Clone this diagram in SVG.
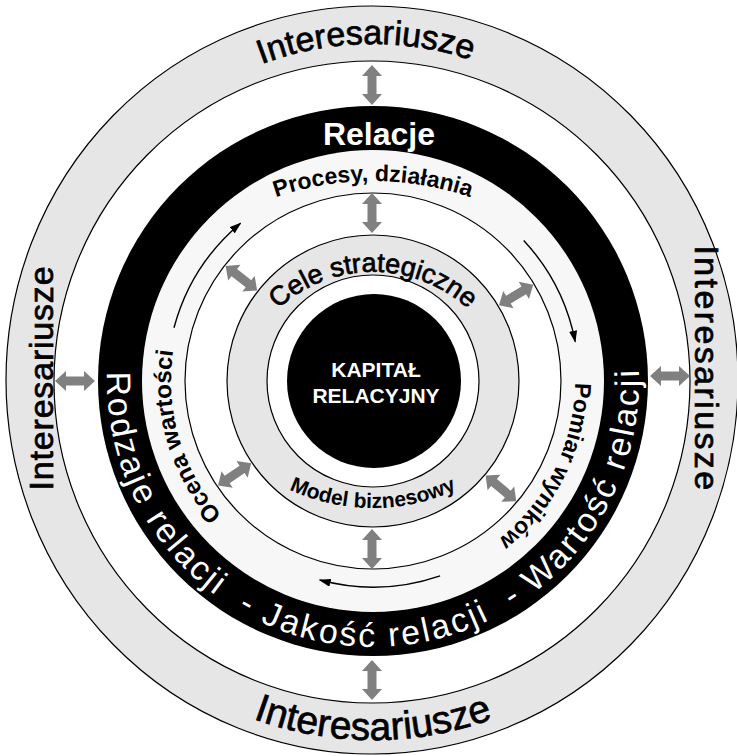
<svg xmlns="http://www.w3.org/2000/svg" xmlns:xlink="http://www.w3.org/1999/xlink" width="737" height="756" viewBox="0 0 737 756">
  <style>
    .ring-line { stroke: #000; stroke-width: 1.2; }
    .lbl { font-family: "Liberation Sans", Arial, sans-serif; fill: #000; }
    .heavy { stroke: #000; stroke-width: 0.7; }
    .white { fill: #fff; }
    .dbl { fill: #808080; }
    .flow { fill: none; stroke: #000; stroke-width: 1.4; marker-end: url(#tip); }
  </style>
  <defs>
    <path id="dbl-arrow" d="M-20,0 L-9,-10 L-9,-4.5 L9,-4.5 L9,-10 L20,0 L9,10 L9,4.5 L-9,4.5 L-9,10 Z"/>
    <marker id="tip" viewBox="0 0 12 8" refX="11" refY="4" markerWidth="12" markerHeight="8" markerUnits="userSpaceOnUse" orient="auto">
      <path d="M0,0 L12,4 L0,8 Z" fill="#000"/>
    </marker>
    <!-- text baselines -->
    <path id="p-top" d="M 134.5 154.7 A 310 310 0 0 1 609.5 154.7"/>
    <path id="p-bottom" d="M 71.6 566 A 348 348 0 0 0 674.4 566"/>
    <path id="p-black" d="M 142.6 248 A 266 266 0 1 0 603.4 248"/>
    <path id="p-proc" d="M 160.9 268.9 A 300 300 0 0 1 585.1 268.9"/>
    <path id="p-light-cw" d="M 373 583 A 202 202 0 1 1 373 179 A 202 202 0 1 1 373 583"/>
    <path id="p-cele" d="M 241.4 364.1 A 140 140 0 0 1 504.6 364.1"/>
    <path id="p-model" d="M 219.8 436.6 A 200 200 0 0 0 526.2 436.6"/>
  </defs>

  <rect width="737" height="756" fill="#fff"/>

  <!-- outer ring: stakeholders -->
  <g id="interesariusze">
    <ellipse cx="372" cy="380" rx="366" ry="374" fill="#e6e6e6" class="ring-line"/>
    <ellipse cx="372" cy="382" rx="318" ry="321" fill="#fff" class="ring-line"/>
    <text class="lbl heavy" font-size="34" text-anchor="middle"><textPath href="#p-top" startOffset="264.5">Interesariusze</textPath></text>
    <text class="lbl heavy" font-size="34" letter-spacing="0.8" text-anchor="middle" transform="translate(53,378) rotate(-90)">Interesariusze</text>
    <text class="lbl heavy" font-size="34" letter-spacing="2.4" text-anchor="middle" transform="translate(695,369) rotate(90)">Interesariusze</text>
    <text class="lbl heavy" font-size="39" text-anchor="middle"><textPath href="#p-bottom" startOffset="50%">Interesariusze</textPath></text>
  </g>

  <!-- black ring: relations -->
  <g id="relacje">
    <circle cx="373" cy="381" r="275" fill="#000"/>
    <text class="lbl white" x="379" y="145" font-size="32" font-weight="bold" text-anchor="middle">Relacje</text>
    <text class="lbl white" font-size="34" letter-spacing="2.5" xml:space="preserve" style="white-space:pre"><textPath href="#p-black" startOffset="130">Rodzaje relacji  - Jakość relacji  - Wartość relacji</textPath></text>
  </g>

  <!-- light ring: processes -->
  <g id="procesy">
    <circle cx="373" cy="381" r="231" fill="#f7f7f7"/>
    <circle cx="373" cy="381" r="188" fill="#fff" class="ring-line"/>
    <text class="lbl" font-size="23" font-weight="bold" text-anchor="middle"><textPath href="#p-proc" startOffset="50%">Procesy, działania</textPath></text>
    <text class="lbl" font-size="24" font-weight="bold" text-anchor="middle"><textPath href="#p-light-cw" startOffset="259">Ocena wartości</textPath></text>
    <text class="lbl" font-size="23" font-weight="bold" text-anchor="middle"><textPath href="#p-light-cw" startOffset="1043.6">Pomiar wyników</textPath></text>
  </g>

  <!-- gray ring: strategy and business model -->
  <g id="cele">
    <circle cx="373" cy="381" r="146" fill="#e6e6e6" class="ring-line"/>
    <circle cx="373" cy="381" r="106" fill="#fff" class="ring-line"/>
    <text class="lbl heavy" font-size="27" text-anchor="middle"><textPath href="#p-cele" startOffset="50%">Cele strategiczne</textPath></text>
    <text class="lbl" font-size="21" font-weight="bold" text-anchor="middle"><textPath href="#p-model" startOffset="50%">Model biznesowy</textPath></text>
  </g>

  <!-- core -->
  <g id="kapital">
    <circle cx="374" cy="381" r="87" fill="#000"/>
    <text class="lbl white" x="376" y="377" font-size="21" font-weight="bold" text-anchor="middle">KAPITAŁ</text>
    <text class="lbl white" x="376" y="403" font-size="21" font-weight="bold" text-anchor="middle">RELACYJNY</text>
  </g>

  <!-- connectors -->
  <g id="connectors">
    <use href="#dbl-arrow" class="dbl" transform="translate(372,85) rotate(90)"/>
    <use href="#dbl-arrow" class="dbl" transform="translate(372,680) rotate(90)"/>
    <use href="#dbl-arrow" class="dbl" transform="translate(75,381)"/>
    <use href="#dbl-arrow" class="dbl" transform="translate(670,376)"/>
    <use href="#dbl-arrow" class="dbl" transform="translate(372,213) rotate(90)"/>
    <use href="#dbl-arrow" class="dbl" transform="translate(372,549) rotate(90)"/>
    <use href="#dbl-arrow" class="dbl" transform="translate(241.4,278.2) rotate(38)"/>
    <use href="#dbl-arrow" class="dbl" transform="translate(516.1,295) rotate(-31)"/>
    <use href="#dbl-arrow" class="dbl" transform="translate(234.6,474.4) rotate(-34)"/>
    <use href="#dbl-arrow" class="dbl" transform="translate(500.9,488.3) rotate(40)"/>
    <path class="flow" d="M 174 327.7 A 206 206 0 0 1 240.6 223.2"/>
    <path class="flow" d="M 523.7 240.5 A 206 206 0 0 1 575.2 341.7"/>
    <path class="flow" d="M 440.1 575.8 A 206 206 0 0 1 319.7 580"/>
  </g>
</svg>
